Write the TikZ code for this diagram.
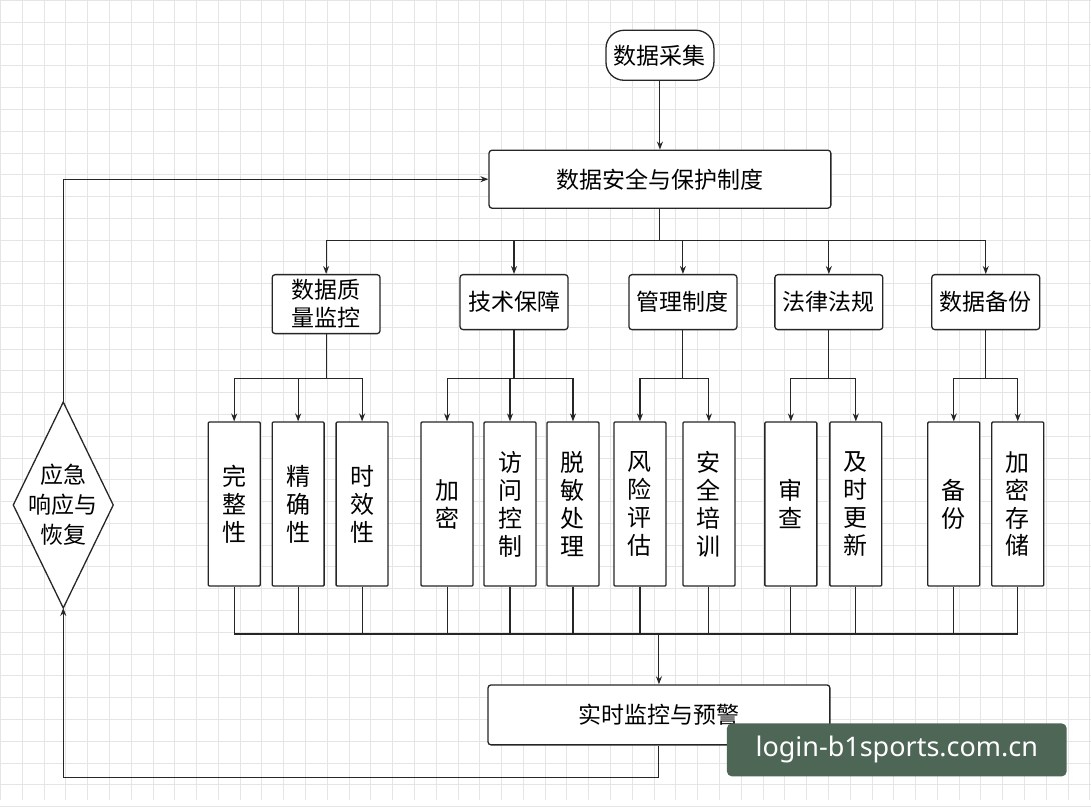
\documentclass[tikz,border=0pt]{standalone}
\usepackage{fontspec}
\setmainfont{Noto Sans CJK SC}
\usetikzlibrary{shapes.geometric,arrows.meta}
\definecolor{wmc}{HTML}{4E6656}
\begin{document}
\begin{tikzpicture}[x=1pt,y=-1pt,
  box/.style={draw=black!85,line width=1.3pt,rounded corners=3pt,fill=white,inner sep=0pt,align=center,font=\fontsize{23}{26}\selectfont},
  leaf/.style={box,minimum width=52pt,minimum height=164pt,rounded corners=1pt,font=\fontsize{24}{28}\selectfont},
  ln/.style={line width=1.1pt,draw=black!85},
  ar/.style={ln,-{Stealth[length=8pt,width=6pt]}}]
\fill[white] (0,0) rectangle (1091,800);
\foreach \i in {0,...,50} {\draw[black!10,line width=0.6pt] (\i*21.8,0) -- (\i*21.8,800);}
\foreach \i in {0,...,37} {\draw[black!10,line width=0.6pt] (0,\i*21.8) -- (1091,\i*21.8);}
\useasboundingbox (0,0) rectangle (1091,800);
\node[box,rounded corners=18pt,minimum width=108pt,minimum height=50pt] (cj) at (660,55) {数据采集};
\node[box,minimum width=342pt,minimum height=58pt] (aq) at (660,179) {数据安全与保护制度};
\node[box,minimum width=108pt,minimum height=59pt,font=\fontsize{23}{28}\selectfont] (c1) at (326,304) {数据质\\量监控};
\node[box,minimum width=108pt,minimum height=55pt] (c2) at (514,302) {技术保障};
\node[box,minimum width=108pt,minimum height=55pt] (c3) at (683,302) {管理制度};
\node[box,minimum width=108pt,minimum height=55pt] (c4) at (829,302) {法律法规};
\node[box,minimum width=108pt,minimum height=55pt] (c5) at (986,302) {数据备份};
\foreach \n/\x/\t in {a1/234/完\\整\\性, a2/298/精\\确\\性, a3/362/时\\效\\性,
  b1/447/加\\密, b2/510/访\\问\\控\\制, b3/573/脱\\敏\\处\\理,
  d1/640/风\\险\\评\\估, d2/709/安\\全\\培\\训,
  e1/791/审\\查, e2/856/及\\时\\更\\新,
  f1/954/备\\份, f2/1018/加\\密\\存\\储}
  \node[leaf] (\n) at (\x,504) {\t};
\node[box,minimum width=342pt,minimum height=60pt] (ss) at (659,715) {实时监控与预警};
\coordinate (yjn) at (63,402);
\coordinate (yjs) at (63,608);
\draw[draw=black!85,line width=1.3pt,fill=white] (yjn) -- (113,505) -- (yjs) -- (13,505) -- cycle;
\node[align=center,font=\fontsize{23}{30}\selectfont] (yj) at (63,505) {应急\\响应与\\恢复};
\draw[ar] (cj) -- (aq);
\coordinate (t0) at (660,240);
\draw[ln] (aq.south) -- (t0);
\draw[ln] (326,240) -- (986,240);
\foreach \c in {c1,c2,c3,c4,c5} \draw[ar] (\c.north |- t0) -- (\c.north);
\foreach \c/\l/\r in {c1/a1/a3,c2/b1/b3,c3/d1/d2,c4/e1/e2,c5/f1/f2}{
  \draw[ln] (\c.south) -- (\c.south |- 0,378);
  \draw[ln] (\l.north |- 0,378) -- (\r.north |- 0,378);}
\foreach \n in {a1,a2,a3,b1,b2,b3,d1,d2,e1,e2,f1,f2}{
  \draw[ar] (\n.north |- 0,378) -- (\n.north);
  \draw[ln] (\n.south) -- (\n.south |- 0,634);}
\draw[ln] (a1.south |- 0,634) -- (f2.south |- 0,634);
\draw[ar] (ss.north |- 0,634) -- (ss.north);
\coordinate (k1) at (659,778);
\coordinate (k2) at (63,778);
\draw[ar] (ss.south) -- (k1) -- (k2) -- (yjs);
\coordinate (k3) at (63,179);
\draw[ar] (yjn) -- (k3) -- (aq.west);
\node[fill=wmc,rounded corners=5pt,minimum width=340pt,minimum height=53pt,text=white,font=\fontspec{Noto Sans}\fontsize{27}{30}\selectfont] (wm) at (897,750) {login-b1sports.com.cn};
\end{tikzpicture}
\end{document}
